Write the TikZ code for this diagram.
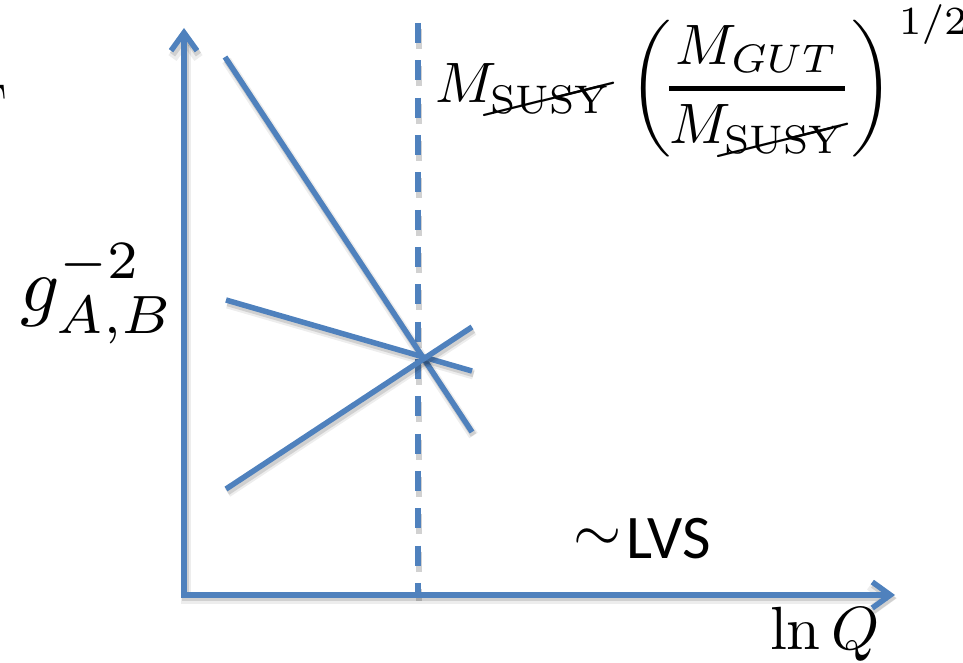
\documentclass[tikz,border=0pt]{standalone}
\usepackage{fontspec}
\usepackage{amsmath}
\usepackage{cancel}
\usetikzlibrary{arrows.meta}
\newfontfamily\calibrifont{Carlito}
\definecolor{axisblue}{RGB}{79,129,189}
\begin{document}
\begin{tikzpicture}[x=1pt,y=-1pt,
  softshadow/.style={
    preaction={draw=black, draw opacity=0.07, line width=10pt, transform canvas={shift={(1.5,3.5)}}},
    preaction={draw=black, draw opacity=0.12, line width=6.5pt, transform canvas={shift={(1.5,3)}}}},
  blueline/.style={softshadow, draw=axisblue, line width=5.5pt},
  axisline/.style={blueline, line join=miter, {Straight Barb[length=18pt,width=26pt]}-{Straight Barb[length=18pt,width=26pt]}},
  dashline/.style={draw=axisblue, line width=5.5pt, dash pattern=on 20pt off 17.33pt,
    preaction={draw=black, draw opacity=0.18, line width=6pt, dash pattern=on 20pt off 17.33pt, transform canvas={shift={(1,6)}}}},
  lbl/.style={inner sep=0pt, outer sep=0pt}
]
\useasboundingbox (0,0) rectangle (963,663);

% coordinates
\coordinate (ytip) at (184,28);
\coordinate (origin) at (184,595);
\coordinate (xtip) at (895,595);
\coordinate (dtop) at (418,23);
\coordinate (dbot) at (418,595);
\coordinate (a1) at (225,57);
\coordinate (a2) at (472,432);
\coordinate (b1) at (226,300);
\coordinate (b2) at (472,371);
\coordinate (c1) at (226,489);
\coordinate (c2) at (472,327);

% dashed vertical
\draw[dashline] (dtop) -- (dbot);
% axes
\draw[axisline] (ytip) -- (origin) -- (xtip);
% lines
\draw[blueline] (a1) -- (a2);
\draw[blueline] (b1) -- (b2);
\draw[blueline] (c1) -- (c2);

% labels
\node[lbl, anchor=north east] (tfrag) at (7,85) {\fontsize{62}{70}\selectfont T};
\node[lbl, anchor=base west] (formula) at (435,103)
  {\scalebox{5.7}{$\displaystyle M_{\cancel{\mathrm{SUSY}}}\mkern6mu\biggl(\mkern-3mu\genfrac{}{}{0.8pt}{0}{M_{GUT}}{M_{\cancel{\mathrm{SUSY}}}}\biggr)^{\mkern2mu 1/2}$}};
\node[lbl, anchor=base west] (glabel) at (20,311) {\scalebox{7.7}{$g_{A,B}^{-2}$}};
\node[lbl, anchor=base west] (lnq) at (770,649) {\scalebox{6.1}{$\ln Q$}};
\node[lbl, anchor=base west] (lvs) at (573,558)
  {\raisebox{7pt}{\scalebox{6.2}{$\sim$}}\hspace{5pt}{\calibrifont\fontsize{62}{70}\selectfont LVS}};
\end{tikzpicture}
\end{document}
